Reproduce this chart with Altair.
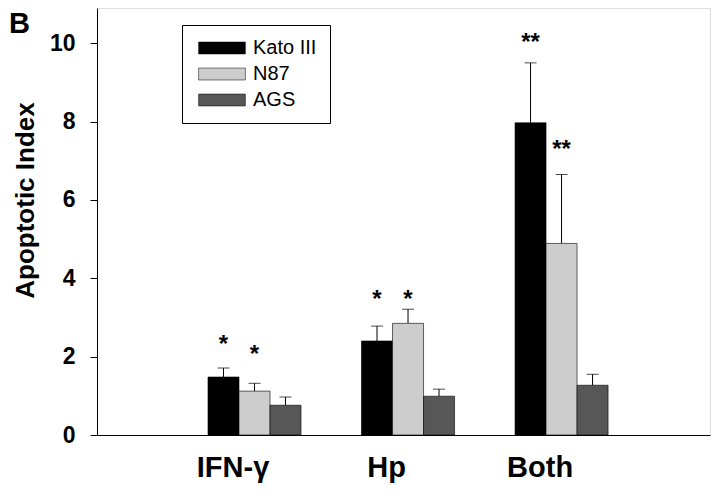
import altair as alt
import pandas as pd

groups = ["IFN-γ", "Hp", "Both"]
series = ["Kato III", "N87", "AGS"]
colors = ["#000000", "#cdcdcd", "#575757"]

kato = [1.48, 2.40, 7.97]
kato_err = [0.23, 0.38, 1.53]
n87 = [1.12, 2.85, 4.89]
n87_err = [0.20, 0.36, 1.76]
ags = [0.76, 0.99, 1.27]
ags_err = [0.21, 0.18, 0.28]

kato_sig = ["*", "*", "**"]
n87_sig = ["*", "*", "**"]
ags_sig = ["", "", ""]
kato_sig_y = [2.45, 3.59, 10.17]
n87_sig_y = [2.19, 3.59, 7.44]
ags_sig_y = [0, 0, 0]

y_ticks = [0, 2, 4, 6, 8, 10]

vals = [kato, n87, ags]
errs = [kato_err, n87_err, ags_err]
sigs = [kato_sig, n87_sig, ags_sig]
sigy = [kato_sig_y, n87_sig_y, ags_sig_y]

rows = []
for si, s in enumerate(series):
    for gi, g in enumerate(groups):
        rows.append(dict(group=g, series=s, gi=gi + 1, si=si,
                         value=vals[si][gi], err=errs[si][gi],
                         sig=sigs[si][gi], sig_y=sigy[si][gi]))
df = pd.DataFrame(rows)

FONT = "Liberation Sans"
W, H = 613, 427

label_expr = "[" + ",".join("'" + g + "'" for g in groups) + "][round(datum.value) - 1]"
label_pos = [i + 1 - 0.143 for i in range(len(groups))]

x_scale = alt.Scale(domain=[-0.026, 3.967], nice=False, zero=False)
x_axis = alt.Axis(values=label_pos, labelExpr=label_expr, ticks=False, grid=False,
                  title=None, labelFontSize=29, labelFontWeight="bold", labelFont=FONT,
                  labelBaseline="alphabetic", labelPadding=41,
                  domainColor="black", labelColor="black")
y_scale = alt.Scale(domain=[0, 10.9], nice=False, zero=True)
y_axis = alt.Axis(values=y_ticks, grid=False, title="Apoptotic Index", titleFont=FONT,
                  titleFontSize=26, titleFontWeight="bold", titleColor="black",
                  titleAngle=270, titleX=-64, titleY=192, titleAlign="center",
                  titleBaseline="alphabetic",
                  labelFont=FONT, labelFontSize=23, labelFontWeight="bold", labelColor="black",
                  labelPadding=15, tickSize=7, tickColor="black", domainColor="black")

base = alt.Chart(df).transform_calculate(
    xc="datum.gi + (datum.si - 1) * 0.202",
    x0="datum.gi + (datum.si - 1) * 0.202 - 0.101",
    x1="datum.gi + (datum.si - 1) * 0.202 + 0.101",
    top="datum.value + datum.err",
    zero="0",
)

bars = base.mark_bar(stroke="black", strokeWidth=0.6).encode(
    x=alt.X("x0:Q", scale=x_scale, axis=x_axis),
    x2="x1:Q",
    y=alt.Y("value:Q", scale=y_scale, axis=y_axis),
    y2="zero:Q",
    color=alt.Color("series:N", scale=alt.Scale(domain=series, range=colors),
                    legend=alt.Legend(title=None, orient="none", legendX=85, legendY=17,
                                      direction="vertical",
                                      symbolType="M-3.6,-0.92H3.6V0.92H-3.6Z", symbolSize=169,
                                      symbolOffset=17,
                                      symbolStrokeColor="black", symbolStrokeWidth=0.5,
                                      symbolOpacity=1,
                                      labelFont=FONT, labelFontSize=20, labelColor="black",
                                      labelOffset=21, rowPadding=6,
                                      padding=13, strokeColor="black", fillColor="white")),
)

err_rule = base.mark_rule(color="black", strokeWidth=1).encode(
    x=alt.X("xc:Q", scale=x_scale, axis=x_axis),
    y=alt.Y("value:Q", scale=y_scale, axis=y_axis),
    y2="top:Q",
)

caps = base.mark_tick(color="black", orient="horizontal", size=12, thickness=1).encode(
    x=alt.X("xc:Q", scale=x_scale, axis=x_axis),
    y=alt.Y("top:Q", scale=y_scale, axis=y_axis),
)

stars = base.transform_filter("datum.sig != ''").mark_text(
    font=FONT, fontSize=24, fontWeight="bold", baseline="alphabetic", dy=13, color="black"
).encode(
    x=alt.X("xc:Q", scale=x_scale, axis=x_axis),
    y=alt.Y("sig_y:Q", scale=y_scale, axis=y_axis),
    text="sig:N",
)

panel = alt.Chart(pd.DataFrame({"t": ["B"]})).mark_text(
    font=FONT, fontSize=29, fontWeight="bold", align="left", baseline="top", color="black"
).encode(x=alt.value(-88), y=alt.value(2), text="t:N")

chart = alt.layer(err_rule, caps, bars, stars, panel).properties(
    width=W, height=H,
    autosize=alt.AutoSizeParams(type="none"),
    padding={"left": 89, "top": 0, "right": 2, "bottom": 48},
).configure_view(stroke="black", strokeWidth=1).configure(background="white")

chart.save("out.html", embed_options={"renderer": "svg", "actions": False})
